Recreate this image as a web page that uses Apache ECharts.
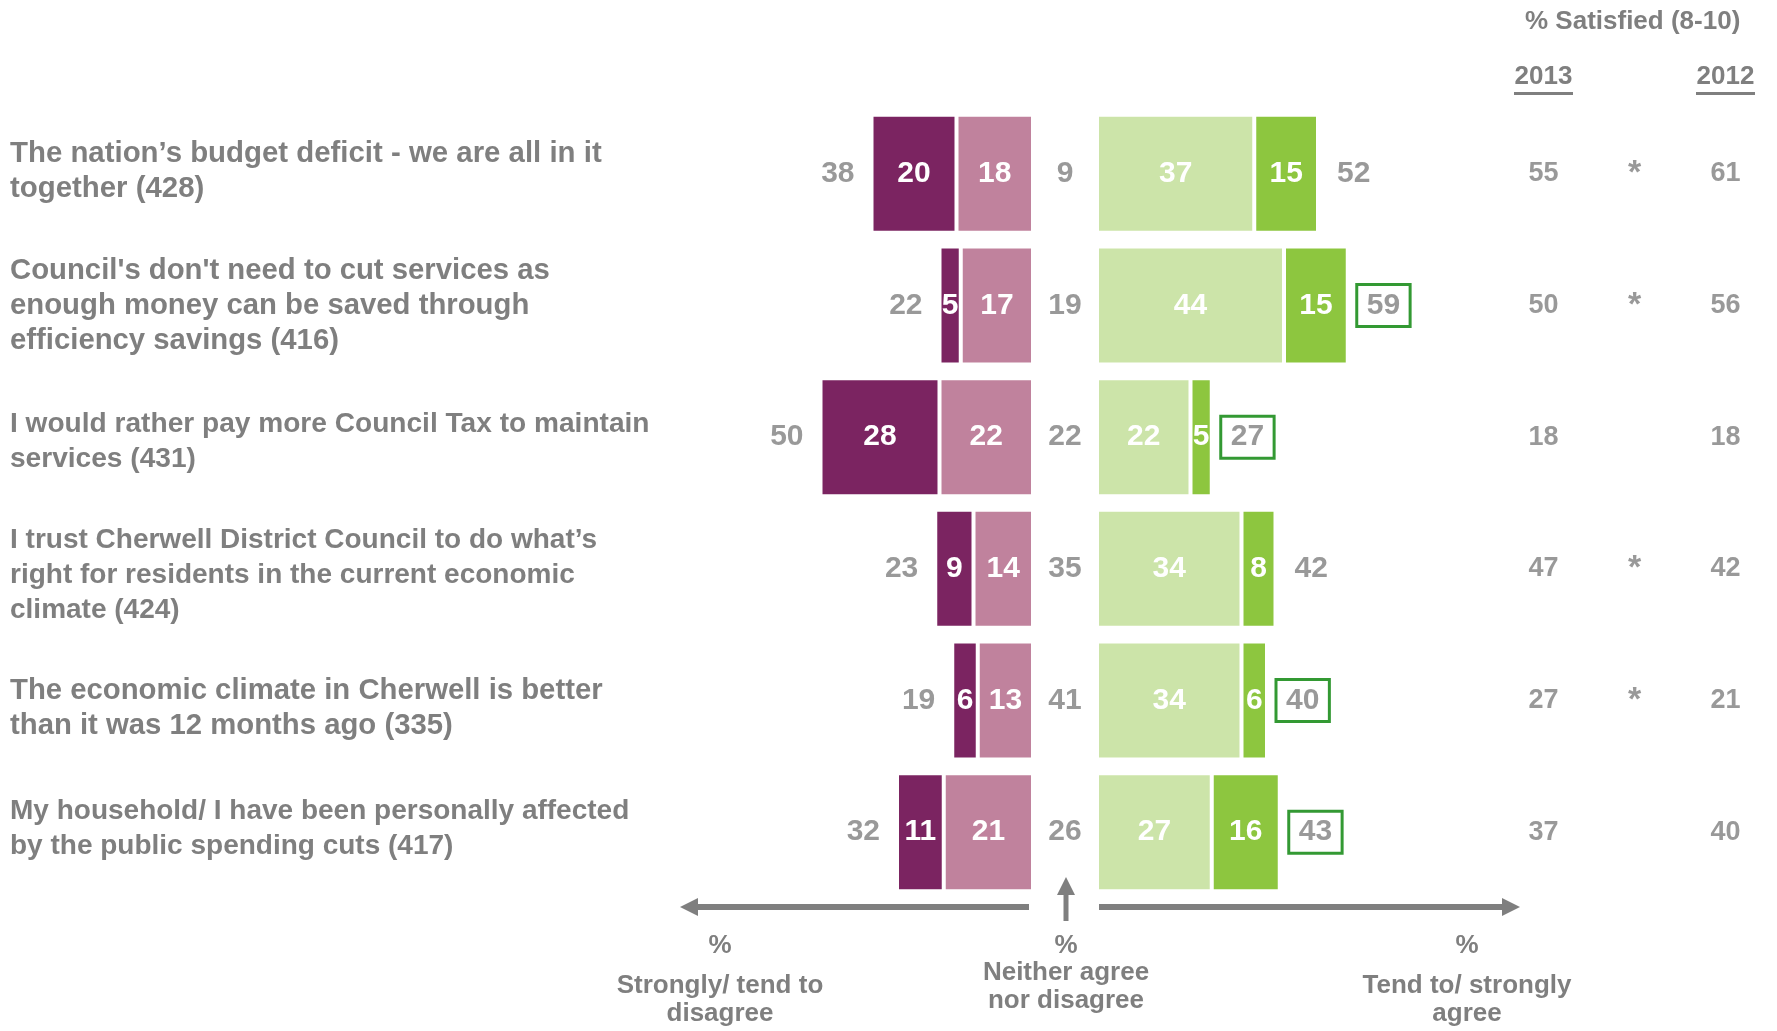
<!DOCTYPE html>
<html>
<head>
<meta charset="utf-8">
<script src="https://cdn.jsdelivr.net/npm/echarts@6/dist/echarts.min.js"></script>
<style>
html,body{margin:0;padding:0;background:#fff}
#main{width:1777px;height:1031px}
</style>
</head>
<body>
<div id="main"></div>
<script>
const statements = [
  'The nation\u2019s budget deficit - we are all in it\ntogether (428)',
  "Council's don't need to cut services as\nenough money can be saved through\nefficiency savings (416)",
  'I would rather pay more Council Tax to maintain\nservices (431)',
  'I trust Cherwell District Council to do what\u2019s\nright for residents in the current economic\nclimate (424)',
  'The economic climate in Cherwell is better\nthan it was 12 months ago (335)',
  'My household/ I have been personally affected\nby the public spending cuts (417)'
];
const stronglyDisagree = [20, 5, 28, 9, 6, 11];
const tendDisagree = [18, 17, 22, 14, 13, 21];
const totalDisagree = [38, 22, 50, 23, 19, 32];
const neither = [9, 19, 22, 35, 41, 26];
const tendAgree = [37, 44, 22, 34, 34, 27];
const stronglyAgree = [15, 15, 5, 8, 6, 16];
const totalAgree = [52, 59, 27, 42, 40, 43];
const agreeBoxed = [false, true, true, false, true, true];
const tableCols = ['2013', '', '2012'];
const satisfied2013 = [55, 50, 18, 47, 27, 37];
const significant = ['*', '*', '', '*', '*', ''];
const satisfied2012 = [61, 56, 18, 42, 21, 40];

const FONT = '"Liberation Sans", Arial, sans-serif';
const GRAY = '#7f7f7f';
const colors = {
  strongDis: '#7b2461',
  tendDis: '#c0829d',
  tendAgr: '#cce4a9',
  strongAgr: '#8dc63f',
  box: '#008000'
};
// statement text boxes in the original are not all the same size
// and not exactly centred on their bars
const labelShift = [-2, 0, 5, 6, 8, -3];
const labelFont = [29.4, 29.3, 28.1, 28, 29.3, 28];

let myChart = echarts.init(document.getElementById('main'));

let statementRich = {};
labelFont.forEach((f, i) => {
  statementRich['t' + i] = {fontFamily: FONT, fontSize: f, fontWeight: 'bold', color: GRAY, lineHeight: 35};
  let h = Math.abs(labelShift[i]) * 2;
  statementRich['p' + i] = {height: h, lineHeight: h};
});

const gridBox = {top: 108, height: 790, outerBoundsMode: 'none', containLabel: false};
const rowAxis = (idx, show) => ({
  type: 'category',
  gridIndex: idx,
  data: statements,
  inverse: true,
  show: show,
  position: 'left',
  axisLine: {show: false, onZero: false},
  axisTick: {show: false},
  splitLine: {show: false},
  axisLabel: {
    show: show,
    interval: 0,
    align: 'left',
    margin: 768,
    formatter: (value, i) => {
      let lines = value.split('\n').map(l => '{t' + i + '|' + l + '}');
      if (labelShift[i] > 0) lines.unshift('{p' + i + '|}');
      if (labelShift[i] < 0) lines.push('{p' + i + '|}');
      return lines.join('\n');
    },
    rich: statementRich
  }
});
const inBar = {
  show: true,
  position: 'inside',
  color: '#fff',
  fontFamily: FONT,
  fontSize: 30,
  fontWeight: 'bold'
};
const grayNum = {
  show: true,
  color: GRAY,
  fontFamily: FONT,
  fontSize: 30,
  fontWeight: 'bold'
};
const barBase = {
  type: 'bar',
  barWidth: 118,
  silent: true,
  itemStyle: {borderColor: '#fff', borderWidth: 2}
};

// table cells
let tableData = [];
[satisfied2013, significant, satisfied2012].forEach((col, c) => {
  col.forEach((v, i) => {
    if (v === '') return;
    let item = {value: [c, i, v]};
    if (v === '*') item.label = {fontSize: 34};
    tableData.push(item);
  });
});

const bottomText = (x, y, text) => ({
  type: 'text', x: x, y: y,
  style: {
    text: text, fontFamily: FONT, fontSize: 26, fontWeight: 'bold',
    fill: GRAY, align: 'center', verticalAlign: 'middle', lineHeight: 28
  }
});

myChart.setOption({
  animation: false,
  title: {
    text: '% Satisfied (8-10)',
    left: 1525,
    top: 9,
    padding: 0,
    textStyle: {fontFamily: FONT, fontSize: 26, fontWeight: 'bold', color: GRAY}
  },
  grid: [
    Object.assign({left: 778, width: 255}, gridBox),
    Object.assign({left: 1033, width: 64}, gridBox),
    Object.assign({left: 1097, width: 255}, gridBox),
    Object.assign({left: 1498, width: 273}, gridBox)
  ],
  xAxis: [
    {type: 'value', gridIndex: 0, min: 0, max: 60, inverse: true, show: false},
    {type: 'category', gridIndex: 1, data: ['neither'], show: false},
    {type: 'value', gridIndex: 2, min: 0, max: 60, show: false},
    {
      type: 'category',
      gridIndex: 3,
      data: tableCols,
      position: 'top',
      axisLine: {show: false},
      axisTick: {show: false},
      splitLine: {show: false},
      axisLabel: {
        interval: 0,
        margin: 13,
        formatter: v => v ? '{t|' + v + '}\n{u|}' : '',
        rich: {
          t: {fontFamily: FONT, fontSize: 26, fontWeight: 'bold', color: GRAY, lineHeight: 30, align: 'center'},
          u: {height: 3, width: 59, backgroundColor: GRAY, align: 'center'}
        }
      }
    }
  ],
  yAxis: [rowAxis(0, true), rowAxis(1, false), rowAxis(2, false), rowAxis(3, false)],
  series: [
    Object.assign({}, barBase, {
      name: 'Tend to disagree',
      xAxisIndex: 0, yAxisIndex: 0, stack: 'dis',
      data: tendDisagree,
      itemStyle: Object.assign({}, barBase.itemStyle, {color: colors.tendDis}),
      label: inBar
    }),
    Object.assign({}, barBase, {
      name: 'Strongly disagree',
      xAxisIndex: 0, yAxisIndex: 0, stack: 'dis',
      data: stronglyDisagree,
      itemStyle: Object.assign({}, barBase.itemStyle, {color: colors.strongDis}),
      label: inBar
    }),
    {
      name: 'Disagree total',
      type: 'scatter', silent: true,
      xAxisIndex: 0, yAxisIndex: 0,
      symbolSize: 0,
      data: totalDisagree.map((v, i) => [v, i]),
      label: Object.assign({}, grayNum, {position: 'left', distance: 17, formatter: p => p.value[0]})
    },
    {
      name: 'Neither',
      type: 'scatter', silent: true,
      xAxisIndex: 1, yAxisIndex: 1,
      symbolSize: 0,
      data: neither.map((v, i) => [0, i, v]),
      label: Object.assign({}, grayNum, {position: 'inside', formatter: p => p.value[2]})
    },
    Object.assign({}, barBase, {
      name: 'Tend to agree',
      xAxisIndex: 2, yAxisIndex: 2, stack: 'agr',
      data: tendAgree,
      itemStyle: Object.assign({}, barBase.itemStyle, {color: colors.tendAgr}),
      label: inBar
    }),
    Object.assign({}, barBase, {
      name: 'Strongly agree',
      xAxisIndex: 2, yAxisIndex: 2, stack: 'agr',
      data: stronglyAgree,
      itemStyle: Object.assign({}, barBase.itemStyle, {color: colors.strongAgr}),
      label: inBar
    }),
    {
      name: 'Agree total',
      type: 'scatter', silent: true,
      xAxisIndex: 2, yAxisIndex: 2,
      symbolSize: 0,
      data: totalAgree.map((v, i) => {
        let item = {value: [v, i]};
        if (agreeBoxed[i]) {
          item.label = {
            distance: 9,
            borderColor: colors.box,
            borderWidth: 3,
            padding: [6, 10, 5, 10],
            lineHeight: 31
          };
        }
        return item;
      }),
      label: Object.assign({}, grayNum, {position: 'right', distance: 19, formatter: p => p.value[0]})
    },
    {
      name: 'Satisfied',
      type: 'scatter', silent: true,
      xAxisIndex: 3, yAxisIndex: 3,
      symbolSize: 0,
      data: tableData,
      label: Object.assign({}, grayNum, {fontSize: 27, position: 'inside', formatter: p => p.value[2]})
    }
  ],
  graphic: [
    {type: 'line', shape: {x1: 1029, y1: 907, x2: 696, y2: 907}, style: {stroke: GRAY, lineWidth: 6}},
    {type: 'polygon', shape: {points: [[680, 907], [698, 898], [698, 916]]}, style: {fill: GRAY}},
    {type: 'line', shape: {x1: 1099, y1: 907, x2: 1504, y2: 907}, style: {stroke: GRAY, lineWidth: 6}},
    {type: 'polygon', shape: {points: [[1520, 907], [1502, 898], [1502, 916]]}, style: {fill: GRAY}},
    {type: 'line', shape: {x1: 1066, y1: 921, x2: 1066, y2: 892}, style: {stroke: GRAY, lineWidth: 5}},
    {type: 'polygon', shape: {points: [[1066, 877], [1057, 895], [1075, 895]]}, style: {fill: GRAY}},
    bottomText(720, 946, '%'),
    bottomText(1066, 946, '%'),
    bottomText(1467, 946, '%'),
    bottomText(720, 1000, 'Strongly/ tend to\ndisagree'),
    bottomText(1066, 987, 'Neither agree\nnor disagree'),
    bottomText(1467, 1000, 'Tend to/ strongly\nagree')
  ]
});
</script>
</body>
</html>
